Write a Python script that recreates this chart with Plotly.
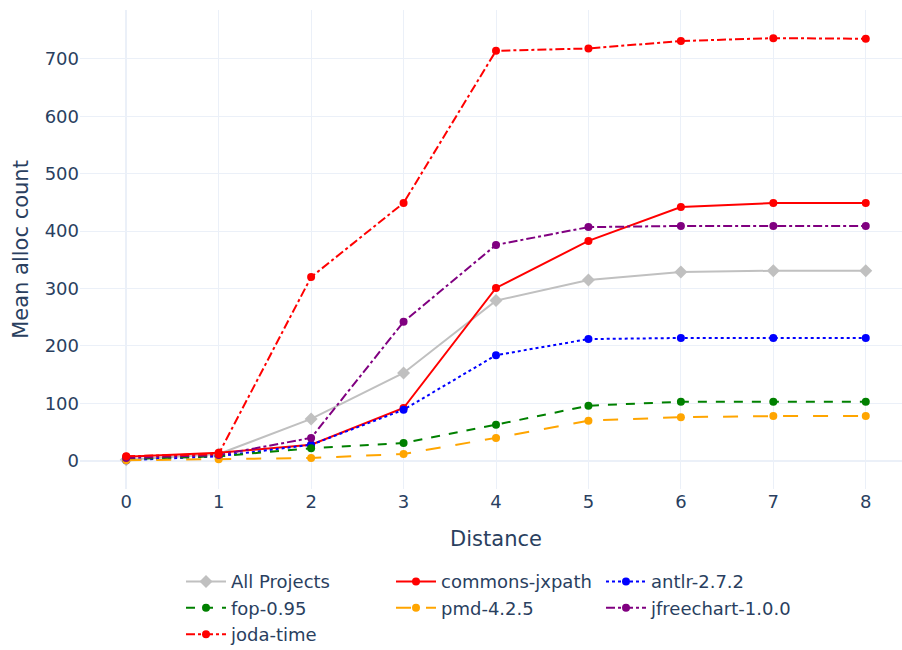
import plotly.graph_objects as go

distance = [0, 1, 2, 3, 4, 5, 6, 7, 8]

all_projects = [2, 12, 73, 153, 279, 315, 329, 331, 331]
commons_jxpath = [7, 14, 28, 92, 301, 383, 442, 449, 449]
antlr = [1, 8, 28, 89, 184, 212, 214, 214, 214]
fop = [3, 8, 22, 31, 63, 96, 103, 103, 103]
pmd = [1, 3, 5, 12, 40, 70, 76, 78, 78]
jfreechart = [5, 10, 40, 242, 376, 407, 409, 409, 409]
joda_time = [8, 12, 320, 449, 714, 718, 731, 736, 735]

series = [
    ("All Projects", all_projects, "silver", "solid", "diamond"),
    ("commons-jxpath", commons_jxpath, "red", "solid", "circle"),
    ("antlr-2.7.2", antlr, "blue", "dot", "circle"),
    ("fop-0.95", fop, "green", "dash", "circle"),
    ("pmd-4.2.5", pmd, "orange", "longdash", "circle"),
    ("jfreechart-1.0.0", jfreechart, "purple", "dashdot", "circle"),
    ("joda-time", joda_time, "red", "dashdot", "circle"),
]

fig = go.Figure()
for name, ys, color, dash, sym in series:
    fig.add_trace(go.Scatter(
        x=distance, y=ys, name=name, mode="lines+markers",
        line=dict(color=color, dash=dash, width=2),
        marker=dict(color=color, size=8 if sym == "circle" else 10, symbol=sym),
    ))

fig.update_layout(
    template="plotly_white",
    width=992, height=700,
    margin=dict(l=80, r=80, t=10, b=211),
    font=dict(family="DejaVu Sans", size=18, color="#2a3f5f"),
    xaxis=dict(title=dict(text="Distance", font=dict(size=21), standoff=20),
               range=[-0.5, 8.5], tickmode="array", tickvals=distance),
    yaxis=dict(title=dict(text="Mean alloc count", font=dict(size=21), standoff=10),
               range=[-49, 785]),
    legend=dict(orientation="h", x=0.5, xanchor="center", y=-0.155, yanchor="top",
                font=dict(size=18), itemwidth=40, entrywidth=155),
)

fig.write_html("out.html")
